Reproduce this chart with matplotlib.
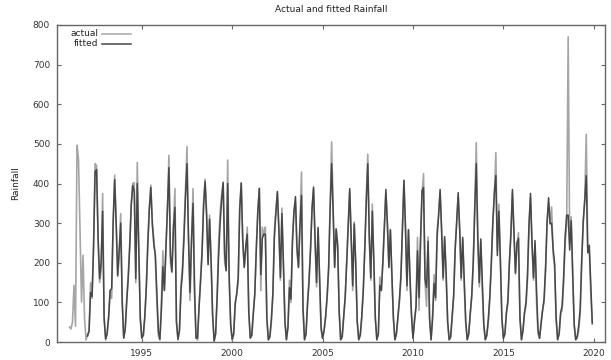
import numpy as np
import matplotlib
matplotlib.use("Agg")
import matplotlib.pyplot as plt
from matplotlib.lines import Line2D

# monthly data, Jan 1991 .. Dec 2019
start_year = 1991
years = list(range(1991, 2020))

actual = [
    38, 33, 50, 143, 40, 497, 460, 280, 101, 219, 60, 5,        # 1991
    20, 25, 150, 110, 250, 450, 445, 255, 150, 180, 375, 60,    # 1992
    5, 20, 60, 130, 110, 300, 421, 300, 165, 220, 324, 110,     # 1993
    10, 35, 110, 170, 250, 350, 400, 402, 150, 453, 240, 60,    # 1994
    10, 15, 60, 140, 257, 340, 396, 300, 260, 210, 100, 15,     # 1995
    5, 100, 230, 130, 240, 330, 471, 200, 175, 290, 387, 50,    # 1996
    5, 30, 147, 190, 280, 383, 493, 257, 105, 250, 387, 150,    # 1997
    10, 5, 90, 160, 230, 350, 411, 330, 200, 320, 200, 70,      # 1998
    0, 20, 120, 250, 330, 370, 404, 200, 180, 459, 150, 40,     # 1999
    5, 20, 100, 120, 150, 341, 402, 250, 190, 230, 290, 80,     # 2000
    10, 15, 70, 120, 240, 330, 387, 130, 290, 270, 290, 60,     # 2001
    5, 10, 50, 120, 282, 330, 375, 282, 156, 338, 190, 50,      # 2002
    5, 40, 156, 100, 265, 330, 354, 223, 190, 300, 429, 90,     # 2003
    5, 20, 100, 160, 240, 341, 387, 250, 139, 290, 150, 30,     # 2004
    10, 30, 60, 110, 180, 341, 505, 340, 190, 286, 250, 80,     # 2005
    5, 10, 60, 110, 200, 290, 379, 257, 130, 303, 190, 50,      # 2006
    5, 15, 60, 130, 240, 366, 474, 257, 156, 348, 200, 60,      # 2007
    5, 20, 164, 130, 200, 282, 376, 300, 190, 284, 160, 60,     # 2008
    5, 20, 60, 100, 156, 282, 408, 290, 130, 284, 150, 70,      # 2009
    10, 60, 90, 264, 80, 240, 372, 425, 150, 90, 265, 60,       # 2010
    5, 70, 170, 105, 282, 320, 376, 280, 156, 261, 160, 50,     # 2011
    5, 10, 60, 114, 240, 300, 366, 282, 156, 258, 140, 50,      # 2012
    5, 20, 70, 114, 200, 341, 503, 257, 139, 253, 130, 40,      # 2013
    5, 15, 50, 110, 198, 300, 366, 478, 230, 348, 200, 60,      # 2014
    10, 20, 72, 97, 200, 265, 376, 274, 172, 240, 276, 60,      # 2015
    5, 30, 72, 90, 156, 290, 364, 240, 156, 248, 100, 20,       # 2016
    10, 50, 80, 100, 180, 299, 349, 300, 341, 223, 190, 60,     # 2017
    5, 20, 72, 80, 150, 250, 299, 770, 250, 316, 160, 40,       # 2018
    5, 10, 30, 72, 206, 300, 358, 524, 240, 232, 120, 45,       # 2019
]

fitted = [
    None, None, None, None, None, None, None, None, None, None, None, None,  # 1991
    15, 28, 125, 115, 240, 430, 435, 262, 160, 200, 330, 60,    # 1992
    8, 22, 65, 130, 135, 305, 410, 300, 168, 230, 300, 100,     # 1993
    10, 32, 102, 160, 240, 345, 395, 380, 160, 400, 235, 60,    # 1994
    10, 18, 65, 138, 246, 335, 390, 298, 245, 220, 125, 28,     # 1995
    7, 80, 190, 130, 232, 328, 440, 220, 178, 288, 340, 52,     # 1996
    7, 29, 128, 175, 262, 366, 450, 264, 125, 258, 350, 125,    # 1997
    10, 10, 88, 152, 225, 342, 405, 320, 195, 310, 205, 68,     # 1998
    3, 21, 110, 220, 300, 358, 402, 222, 180, 400, 168, 45,     # 1999
    7, 21, 95, 122, 165, 335, 401, 260, 188, 242, 272, 75,      # 2000
    10, 18, 72, 122, 232, 328, 388, 170, 262, 272, 272, 60,     # 2001
    6, 14, 58, 122, 263, 328, 380, 283, 163, 324, 198, 52,      # 2002
    6, 36, 137, 108, 251, 328, 367, 240, 188, 295, 370, 82,     # 2003
    6, 21, 95, 152, 232, 335, 391, 260, 150, 288, 168, 38,      # 2004
    9, 29, 65, 115, 188, 336, 450, 328, 188, 285, 242, 75,      # 2005
    6, 14, 65, 115, 202, 298, 387, 266, 142, 298, 198, 52,      # 2006
    6, 18, 65, 130, 232, 355, 450, 266, 162, 330, 205, 60,      # 2007
    6, 21, 143, 130, 202, 292, 385, 298, 188, 283, 175, 60,     # 2008
    6, 21, 65, 108, 170, 292, 408, 290, 142, 283, 168, 68,      # 2009
    9, 51, 88, 230, 112, 260, 382, 390, 158, 138, 254, 60,      # 2010
    6, 58, 148, 112, 264, 320, 385, 282, 162, 266, 175, 52,     # 2011
    6, 14, 65, 118, 232, 305, 377, 284, 162, 264, 160, 52,      # 2012
    6, 21, 72, 118, 202, 336, 450, 266, 150, 260, 152, 45,      # 2013
    6, 18, 58, 115, 201, 305, 377, 420, 218, 330, 205, 60,      # 2014
    9, 21, 74, 105, 202, 278, 385, 278, 174, 250, 262, 60,      # 2015
    6, 29, 74, 100, 170, 298, 375, 252, 162, 256, 130, 30,      # 2016
    9, 44, 80, 108, 188, 304, 364, 298, 300, 236, 198, 60,      # 2017
    6, 21, 74, 92, 165, 268, 320, 320, 232, 306, 175, 45,       # 2018
    6, 14, 42, 86, 207, 305, 358, 420, 225, 244, 145, 48,       # 2019
]

yticks = [0, 100, 200, 300, 400, 500, 600, 700, 800]
xticks = [1995, 2000, 2005, 2010, 2015, 2020]

t = np.array([y + m / 12.0 for y in years for m in range(12)])
a = np.array(actual, dtype=float)
f = np.array([np.nan if v is None else v for v in fitted], dtype=float)

fs = 6.5
fig = plt.figure(figsize=(6.11, 3.60), dpi=100)
ax = fig.add_axes([57 / 611, 1 - 342 / 360, (605 - 57) / 611, (342 - 25) / 360])

gray = "#a6a6a6"
dark = "#474747"
ax.plot(t, a, color=gray, lw=1.2)
ax.plot(t, f, color=dark, lw=1.1)

ax.set_xlim(1990.31, 2020.62)
ax.set_ylim(0, 800)
ax.set_yticks(yticks)
ax.set_xticks(xticks)
ax.tick_params(direction="in", length=3, width=0.8, colors="#666666",
               labelcolor="#333333", labelsize=fs, top=True, right=True, pad=5)
for s in ax.spines.values():
    s.set_color("#666666")
    s.set_linewidth(1.0)

ax.set_title("Actual and fitted Rainfall", fontsize=fs, color="#222222", pad=9)
ax.set_ylabel("Rainfall", fontsize=fs, color="#222222", labelpad=9)

# legend (gnuplot style: label then sample)
for i, (lab, col) in enumerate([("actual", gray), ("fitted", dark)]):
    yy = 0.973 - i * 0.032
    ax.text(0.075, yy, lab, transform=ax.transAxes, ha="right", va="center",
            fontsize=fs, color="#222222")
    ax.add_line(Line2D([0.083, 0.135], [yy, yy], transform=ax.transAxes,
                       color=col, lw=1.1))

fig.savefig("out.png", dpi=100)
